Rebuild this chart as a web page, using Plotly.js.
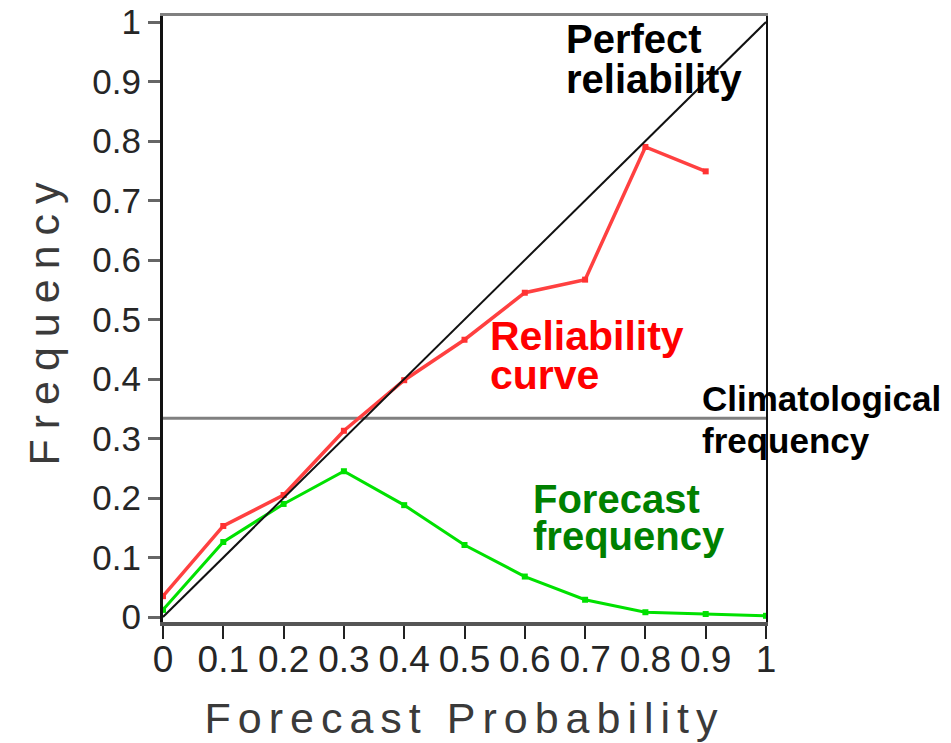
<!DOCTYPE html>
<html>
<head>
<meta charset="utf-8">
<script src="https://cdn.plot.ly/plotly-3.0.1.min.js"></script>
<style>
  html, body { margin: 0; padding: 0; background: #fff; }
  #chart { width: 951px; height: 743px; }
  .xtitle { letter-spacing: 7px; }
  .ytitle { letter-spacing: 10px; }
</style>
</head>
<body>
<div id="chart"></div>
<script>
// ---- data ----
const probBins = [0, 0.1, 0.2, 0.3, 0.4, 0.5, 0.6, 0.7, 0.8, 0.9, 1.0];
const reliabilityX = [0, 0.1, 0.2, 0.3, 0.4, 0.5, 0.6, 0.7, 0.8, 0.9];
const reliabilityY = [0.035, 0.153, 0.205, 0.313, 0.398, 0.466, 0.545, 0.567, 0.790, 0.749];
const forecastFreqY = [0.012, 0.126, 0.190, 0.245, 0.188, 0.121, 0.068, 0.029, 0.008, 0.005, 0.002];
const perfectX = [0, 1];
const perfectY = [0, 1];
const climatologicalFreq = 0.334;
const tickVals = [0, 0.1, 0.2, 0.3, 0.4, 0.5, 0.6, 0.7, 0.8, 0.9, 1];
const tickText = ["0", "0.1", "0.2", "0.3", "0.4", "0.5", "0.6", "0.7", "0.8", "0.9", "1"];

const yTickFont = { family: "Liberation Sans, Arial, sans-serif", size: 35, color: "#262626" };
const xTickFont = { family: "Liberation Sans, Arial, sans-serif", size: 37, color: "#262626" };
const titleFont = { family: "Liberation Sans, Arial, sans-serif", size: 43, color: "#3a3a3a" };
const annFont = (size, color) => ({ family: "Liberation Sans, Arial, sans-serif", size: size, color: color, weight: "bold" });

const traces = [
  { x: [0, 1], y: [climatologicalFreq, climatologicalFreq], mode: "lines",
    line: { color: "#808080", width: 3 }, hoverinfo: "skip" },
  { x: probBins, y: forecastFreqY, mode: "lines+markers",
    line: { color: "rgb(0,225,0)", width: 3 },
    marker: { symbol: "square", size: 6, color: "rgb(0,225,0)" } },
  { x: reliabilityX, y: reliabilityY, mode: "lines+markers",
    line: { color: "rgb(255,64,64)", width: 3.5 },
    marker: { symbol: "square", size: 6, color: "rgb(255,50,50)" } },
  { x: perfectX, y: perfectY, mode: "lines", xaxis: "x2", yaxis: "y2",
    line: { color: "#111", width: 2 } }
];

const ann = (text, x, y, size, color) => ({
  text: text, x: x, y: y, xref: "x", yref: "y", xanchor: "left", yanchor: "middle",
  showarrow: false, borderpad: 0, font: annFont(size, color)
});

const yRange = [-0.0084, 1.0101];

const layout = {
  width: 951, height: 743,
  margin: { l: 163, r: 185, t: 16, b: 121 },
  paper_bgcolor: "#fff", plot_bgcolor: "#fff",
  showlegend: false,
  xaxis: {
    range: [0, 1], tickvals: tickVals, ticktext: tickText,
    ticks: "outside", ticklen: 13, tickwidth: 2, tickcolor: "#222",
    ticklabelstandoff: -11,
    showline: true, linecolor: "#555", linewidth: 4,
    showgrid: false, zeroline: false, automargin: false,
    tickfont: xTickFont,
    title: { text: "Forecast Probability", font: titleFont, standoff: 24 }
  },
  yaxis: {
    range: yRange, tickvals: tickVals, ticktext: tickText,
    ticks: "outside", ticklen: 12, tickwidth: 3, tickcolor: "#666",
    showline: true, linecolor: "#111", linewidth: 3,
    showgrid: false, zeroline: false, automargin: false,
    tickfont: yTickFont,
    title: { text: "Frequency", font: titleFont, standoff: 20 }
  },
  xaxis2: {
    overlaying: "x", side: "top", range: [0, 1], showline: true,
    linecolor: "#808080", linewidth: 3, showticklabels: false, ticks: "",
    showgrid: false, zeroline: false
  },
  yaxis2: {
    overlaying: "y", side: "right", range: yRange, showline: true,
    linecolor: "#111", linewidth: 2, showticklabels: false, ticks: "",
    showgrid: false, zeroline: false
  },
  annotations: [
    ann("Perfect", 0.667, 0.971, 40, "#000"),
    ann("reliability", 0.667, 0.904, 40, "#000"),
    ann("Reliability", 0.540, 0.473, 41, "#ff0000"),
    ann("curve", 0.540, 0.406, 41, "#ff0000"),
    ann("Forecast", 0.612, 0.198, 40, "#008000"),
    ann("frequency", 0.612, 0.136, 40, "#008000"),
    ann("Climatological", 0.892, 0.368, 35, "#000"),
    ann("frequency", 0.892, 0.297, 35, "#000")
  ]
};

Plotly.newPlot("chart", traces, layout, { displayModeBar: false, staticPlot: true });
</script>
</body>
</html>
